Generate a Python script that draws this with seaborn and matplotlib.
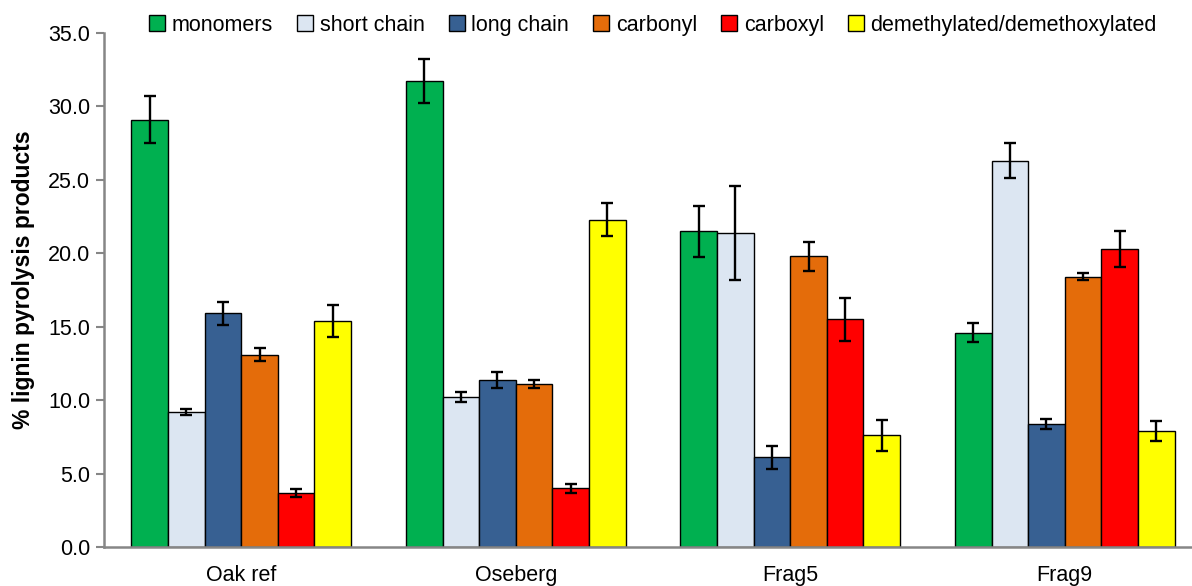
import numpy as np
import pandas as pd
import matplotlib
matplotlib.use("Agg")
import matplotlib.pyplot as plt
import seaborn as sns

# data
samples = ["Oak ref", "Oseberg", "Frag5", "Frag9"]
series = ["monomers", "short chain", "long chain", "carbonyl", "carboxyl",
          "demethylated/demethoxylated"]
monomers = [29.1, 31.7, 21.5, 14.6]
short_chain = [9.2, 10.2, 21.4, 26.3]
long_chain = [15.9, 11.4, 6.1, 8.4]
carbonyl = [13.1, 11.1, 19.8, 18.4]
carboxyl = [3.7, 4.0, 15.5, 20.3]
demeth = [15.4, 22.3, 7.6, 7.9]

monomers_err = [1.6, 1.5, 1.75, 0.65]
short_chain_err = [0.23, 0.33, 3.2, 1.2]
long_chain_err = [0.8, 0.55, 0.8, 0.35]
carbonyl_err = [0.45, 0.3, 1.0, 0.25]
carboxyl_err = [0.27, 0.3, 1.45, 1.25]
demeth_err = [1.1, 1.15, 1.05, 0.7]

colors = ["#00B050", "#DCE6F2", "#376092", "#E46C0A", "#FF0000", "#FFFF00"]

values = [monomers, short_chain, long_chain, carbonyl, carboxyl, demeth]
errors = [monomers_err, short_chain_err, long_chain_err, carbonyl_err,
          carboxyl_err, demeth_err]

df = pd.DataFrame({
    "sample": samples * len(series),
    "series": [s for s in series for _ in samples],
    "value": [v for vals in values for v in vals],
})

sns.set_style("white")
plt.rcParams["font.family"] = ["Liberation Sans", "DejaVu Sans"]
plt.rcParams["text.color"] = "black"
plt.rcParams["xtick.labelcolor"] = "black"
plt.rcParams["ytick.labelcolor"] = "black"
plt.rcParams["axes.labelcolor"] = "black"

fig = plt.figure(figsize=(11.92, 5.86), dpi=100)
ax = fig.add_axes([104 / 1192, 39 / 586, 1098 / 1192, 514 / 586])

sns.barplot(data=df, x="sample", y="value", hue="series", order=samples,
            hue_order=series, palette=colors, errorbar=None, width=0.8,
            edgecolor="black", linewidth=1.0, saturation=1, ax=ax)

# error bars on top of each bar
for cont, errs in zip(ax.containers, errors):
    xs = [b.get_x() + b.get_width() / 2 for b in cont]
    hs = [b.get_height() for b in cont]
    ax.errorbar(xs, hs, yerr=errs, fmt="none", ecolor="black",
                elinewidth=1.7, capsize=4.3, capthick=1.7, zorder=5)

ax.set_ylim(0, 35)
ax.set_xlim(-0.5, 3.5)
ax.set_yticks(np.arange(0, 35.1, 5))
ax.yaxis.set_major_formatter(matplotlib.ticker.FormatStrFormatter("%.1f"))
ax.set_xticks([-0.5, 0.5, 1.5, 2.5, 3.5], minor=True)
ax.tick_params(axis="x", which="major", length=0, pad=13, labelsize=15.5)
ax.tick_params(axis="x", which="minor", length=6, width=1.5, color="#868686",
               direction="out")
ax.tick_params(axis="y", length=6, width=1.5, color="#868686", direction="out",
               labelsize=15.5, pad=4, left=True)
ax.set_xlabel("")
ax.set_ylabel("% lignin pyrolysis products", fontsize=16.5, fontweight="bold")
ax.yaxis.set_label_coords(-0.063, 0.52)

for side in ["top", "right"]:
    ax.spines[side].set_visible(False)
for side in ["left", "bottom"]:
    ax.spines[side].set_color("#868686")
    ax.spines[side].set_linewidth(1.8)

ax.legend(loc="upper center", bbox_to_anchor=(0.5, 1.052), ncol=6,
          frameon=False, fontsize=15.5, handlelength=0.75, handleheight=0.75,
          handletextpad=0.3, columnspacing=1.12, borderaxespad=0)

fig.savefig("out.png", dpi=100)
